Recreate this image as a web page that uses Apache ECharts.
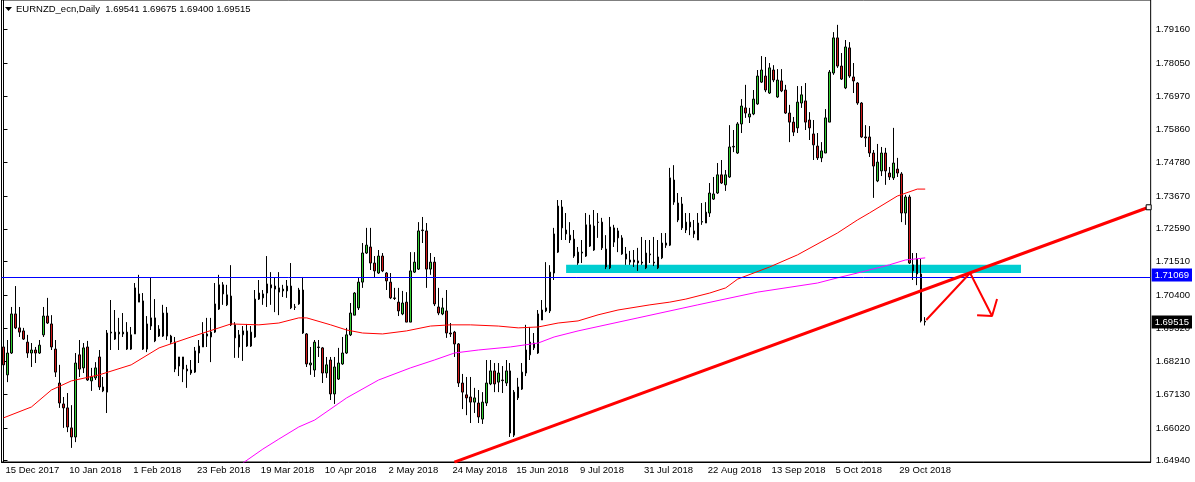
<!DOCTYPE html>
<html><head><meta charset="utf-8">
<script src="https://cdn.jsdelivr.net/npm/echarts@6/dist/echarts.min.js"></script>
<style>html,body{margin:0;padding:0;background:#fff}#c{width:1195px;height:482px}</style>
</head><body><div id="c"></div><script>
const symbolName = 'EURNZD_ecn,Daily';
const firstDay = [2017, 11, 15];
const holidays = ['2017-12-25', '2018-01-01'];
const totalSlots = 288;
const labelEvery = 16;

const opens = [1.6869,1.6777,1.6849,1.6978,1.6932,1.6922,1.6885,1.6849,1.6859,1.6849,1.6909,1.6971,1.6945,1.6862,1.6750,1.6681,1.6668,1.6602,1.6572,1.6843,
1.6800,1.6869,1.6757,1.6767,1.6836,1.6737,1.6720,1.6915,1.6918,1.6912,1.6912,1.6918,1.6862,1.6912,1.7044,1.7021,1.6862,1.6938,1.6965,1.6905,
1.6905,1.6981,1.6905,1.6885,1.6806,1.6836,1.6796,1.6783,1.6786,1.6849,1.6869,1.6912,1.6902,1.6918,1.6994,1.7074,1.7008,1.7037,1.6942,1.6869,
1.6909,1.6922,1.6872,1.6902,1.7027,1.7031,1.7047,1.7074,1.7070,1.7064,1.7054,1.7054,1.7070,1.7001,1.7011,1.7057,1.6912,1.6810,1.6793,1.6867,
1.6866,1.6783,1.6826,1.6714,1.6763,1.6813,1.6849,1.6909,1.6974,1.6998,1.7083,1.7179,1.7199,1.7146,1.7113,1.7169,1.7113,1.7083,1.7031,1.7017,
1.6978,1.7017,1.6951,1.7116,1.7126,1.7255,1.7252,1.7126,1.7149,1.7001,1.6978,1.6988,1.6915,1.6918,1.6879,1.6750,1.6711,1.6704,1.6687,1.6684,
1.6631,1.6684,1.6747,1.6790,1.6753,1.6760,1.6750,1.6790,1.6578,1.6701,1.6730,1.6783,1.6843,1.6882,1.6849,1.6958,1.6988,1.6988,1.7113,1.7182,
1.7331,1.7255,1.7238,1.7225,1.7146,1.7179,1.7169,1.7272,1.7189,1.7281,1.7281,1.7192,1.7130,1.7262,1.7252,1.7229,1.7176,1.7149,1.7156,1.7146,
1.7149,1.7130,1.7176,1.7149,1.7130,1.7163,1.7212,1.7205,1.7420,1.7344,1.7341,1.7255,1.7281,1.7252,1.7222,1.7281,1.7278,1.7311,1.7357,1.7377,
1.7437,1.7404,1.7430,1.7529,1.7509,1.7605,1.7658,1.7628,1.7638,1.7671,1.7743,1.7763,1.7707,1.7783,1.7694,1.7747,1.7717,1.7641,1.7611,1.7592,
1.7674,1.7681,1.7618,1.7572,1.7532,1.7493,1.7509,1.7611,1.7773,1.7889,1.7796,1.7724,1.7856,1.7760,1.7740,1.7674,1.7562,1.7562,1.7509,1.7417,
1.7450,1.7509,1.7443,1.7427,1.7456,1.7440,1.7311,1.7364,1.7140,1.7159,1.7110,1.69541];
const highs = [1.6885,1.6892,1.7001,1.7070,1.7001,1.6932,1.6909,1.6882,1.6869,1.6892,1.7001,1.7031,1.6974,1.6892,1.6810,1.6704,1.6717,1.6677,1.6849,1.6892,
1.6882,1.6889,1.6800,1.6819,1.6859,1.6770,1.6925,1.7024,1.6991,1.6965,1.6981,1.6951,1.6935,1.7080,1.7107,1.7047,1.6971,1.7097,1.7027,1.6941,
1.7008,1.7001,1.6909,1.6902,1.6836,1.6836,1.6810,1.6826,1.6869,1.6892,1.6951,1.6965,1.6965,1.7080,1.7107,1.7083,1.7074,1.7139,1.6951,1.6925,
1.6938,1.6945,1.6938,1.7057,1.7090,1.7057,1.7169,1.7116,1.7097,1.7116,1.7074,1.7090,1.7146,1.7011,1.7064,1.7100,1.6915,1.6869,1.6892,1.6892,
1.6869,1.6836,1.6836,1.6836,1.6866,1.6902,1.6932,1.7014,1.7050,1.7097,1.7212,1.7262,1.7262,1.7169,1.7189,1.7179,1.7116,1.7113,1.7064,1.7064,
1.7054,1.7050,1.7182,1.7182,1.7281,1.7298,1.7278,1.7179,1.7166,1.7064,1.7031,1.7057,1.6948,1.6922,1.6882,1.6780,1.6770,1.6770,1.6734,1.6727,
1.6720,1.6826,1.6826,1.6816,1.6816,1.6806,1.6826,1.6816,1.6727,1.6767,1.6816,1.6942,1.6935,1.6915,1.6991,1.7024,1.7149,1.7139,1.7262,1.7354,
1.7354,1.7311,1.7281,1.7255,1.7199,1.7222,1.7311,1.7305,1.7321,1.7311,1.7295,1.7238,1.7298,1.7272,1.7262,1.7238,1.7199,1.7186,1.7189,1.7196,
1.7232,1.7222,1.7222,1.7232,1.7222,1.7245,1.7245,1.7460,1.7469,1.7377,1.7364,1.7311,1.7311,1.7288,1.7311,1.7344,1.7347,1.7410,1.7430,1.7476,
1.7486,1.7453,1.7601,1.7585,1.7611,1.7687,1.7734,1.7658,1.7717,1.7783,1.7829,1.7826,1.7806,1.7799,1.7786,1.7786,1.7734,1.7668,1.7628,1.7730,
1.7730,1.7740,1.7644,1.7618,1.7575,1.7545,1.7654,1.7783,1.7908,1.7932,1.7839,1.7882,1.7875,1.7806,1.7743,1.7677,1.7601,1.7598,1.7519,1.7539,
1.7529,1.7526,1.7463,1.7592,1.7493,1.7446,1.7371,1.7371,1.7179,1.7179,1.7159,1.69675];
const lows = [1.6767,1.6753,1.6846,1.6928,1.6902,1.6892,1.6833,1.6803,1.6816,1.6846,1.6902,1.6945,1.6859,1.6770,1.6668,1.6602,1.6588,1.6536,1.6555,1.6770,
1.6783,1.6757,1.6724,1.6760,1.6727,1.6720,1.6651,1.6859,1.6892,1.6859,1.6902,1.6859,1.6859,1.6912,1.7017,1.6859,1.6852,1.6925,1.6885,1.6902,
1.6902,1.6892,1.6879,1.6786,1.6773,1.6753,1.6734,1.6777,1.6783,1.6816,1.6869,1.6869,1.6819,1.6915,1.6991,1.7008,1.7004,1.6938,1.6833,1.6833,
1.6823,1.6869,1.6869,1.6899,1.7024,1.7008,1.7001,1.7008,1.6984,1.6974,1.7034,1.7031,1.6994,1.6991,1.7008,1.6912,1.6803,1.6777,1.6770,1.6836,
1.6750,1.6767,1.6694,1.6681,1.6760,1.6810,1.6846,1.6905,1.6974,1.6991,1.7064,1.7176,1.7123,1.7097,1.7110,1.7116,1.7057,1.7027,1.7024,1.6971,
1.6974,1.6951,1.6951,1.7113,1.7123,1.7212,1.7064,1.7107,1.7004,1.6974,1.6974,1.6899,1.6902,1.6836,1.6737,1.6664,1.6644,1.6618,1.6651,1.6618,
1.6615,1.6674,1.6743,1.6720,1.6720,1.6717,1.6740,1.6572,1.6572,1.6694,1.6727,1.6773,1.6826,1.6859,1.6846,1.6958,1.6984,1.6981,1.7090,1.7179,
1.7222,1.7222,1.7212,1.7163,1.7140,1.7146,1.7166,1.7199,1.7186,1.7229,1.7189,1.7126,1.7126,1.7199,1.7182,1.7173,1.7140,1.7140,1.7133,1.7120,
1.7140,1.7126,1.7146,1.7136,1.7126,1.7159,1.7196,1.7202,1.7338,1.7281,1.7255,1.7245,1.7238,1.7229,1.7222,1.7272,1.7278,1.7298,1.7354,1.7374,
1.7407,1.7384,1.7427,1.7512,1.7506,1.7575,1.7625,1.7608,1.7634,1.7668,1.7740,1.7710,1.7704,1.7743,1.7691,1.7710,1.7638,1.7545,1.7565,1.7575,
1.7658,1.7585,1.7552,1.7486,1.7486,1.7479,1.7509,1.7611,1.7767,1.7790,1.7750,1.7720,1.7757,1.7707,1.7668,1.7559,1.7529,1.7496,1.7361,1.7413,
1.7433,1.7404,1.7420,1.7420,1.7430,1.7281,1.7272,1.7143,1.7090,1.7073,1.6950,1.69400];
const closes = [1.6810,1.6849,1.6978,1.6932,1.6918,1.6895,1.6849,1.6859,1.6849,1.6875,1.6971,1.6948,1.6869,1.6786,1.6684,1.6668,1.6605,1.6572,1.6816,1.6796,
1.6866,1.6760,1.6770,1.6800,1.6737,1.6724,1.6915,1.6918,1.6895,1.6918,1.6918,1.6862,1.6909,1.7064,1.7017,1.6862,1.6945,1.6965,1.6889,1.6928,
1.6981,1.6905,1.6885,1.6796,1.6836,1.6796,1.6790,1.6793,1.6856,1.6872,1.6912,1.6905,1.6918,1.7011,1.7074,1.7044,1.7041,1.6942,1.6899,1.6909,
1.6922,1.6872,1.6918,1.7027,1.7047,1.7044,1.7077,1.7064,1.7060,1.7050,1.7060,1.7070,1.6998,1.7000,1.7057,1.6915,1.6813,1.6816,1.6885,1.6869,
1.6783,1.6810,1.6714,1.6803,1.6816,1.6849,1.6909,1.6981,1.7047,1.7083,1.7179,1.7205,1.7146,1.7120,1.7169,1.7120,1.7087,1.7031,1.7029,1.6988,
1.7014,1.6951,1.7120,1.7149,1.7252,1.7253,1.7126,1.7149,1.7011,1.6981,1.6998,1.6915,1.6912,1.6879,1.6750,1.6720,1.6701,1.6687,1.6701,1.6638,
1.6687,1.6750,1.6790,1.6747,1.6783,1.6758,1.6790,1.6585,1.6720,1.6737,1.6786,1.6859,1.6885,1.6866,1.6978,1.6991,1.6998,1.7116,1.7242,1.7334,
1.7262,1.7242,1.7222,1.7169,1.7182,1.7182,1.7272,1.7202,1.7268,1.7280,1.7196,1.7133,1.7265,1.7215,1.7229,1.7176,1.7159,1.7156,1.7149,1.7153,
1.7146,1.7179,1.7173,1.7146,1.7166,1.7212,1.7205,1.7427,1.7347,1.7288,1.7262,1.7281,1.7265,1.7242,1.7278,1.7283,1.7314,1.7377,1.7374,1.7437,
1.7410,1.7437,1.7529,1.7531,1.7605,1.7664,1.7641,1.7638,1.7687,1.7763,1.7783,1.7717,1.7790,1.7750,1.7750,1.7714,1.7641,1.7611,1.7578,1.7677,
1.7701,1.7611,1.7592,1.7536,1.7493,1.7516,1.7625,1.7776,1.7889,1.7796,1.7753,1.7859,1.7763,1.7747,1.7674,1.7562,1.7559,1.7509,1.7466,1.7479,
1.7509,1.7450,1.7430,1.7476,1.7443,1.7311,1.7364,1.7146,1.7120,1.7110,1.6955,1.69515];

const priceTicks = [1.7916,1.7805,1.7697,1.7586,1.7478,1.7367,1.7259,1.7151,1.7040,1.6932,1.6821,1.6713,1.6602,1.6494];
const priceMin = 1.64894, priceMax = 1.8014;
const levelPrice = 1.71069;

const redMaBars = [0,7,12,17,24,32,39,47,54,57,64,69,74,76,82,86,90,95,101,107,112,117,124,129,134,139,144,149,154,162,167,171,177,181,184,192,199,209,214,217,224,229,231];
const redMaVals = [1.6635,1.6671,1.6727,1.6757,1.6777,1.6810,1.6866,1.6902,1.6932,1.6945,1.6942,1.6948,1.6965,1.6965,1.6942,1.6925,1.6915,1.6912,1.6922,1.6938,1.6942,1.6942,1.6938,1.6932,1.6935,1.6948,1.6955,1.6975,1.6991,1.7008,1.7017,1.7027,1.7047,1.7064,1.7093,1.7133,1.7173,1.7245,1.7288,1.7311,1.7367,1.7390,1.7390];
const magMaBars = [60,65,69,74,78,86,94,102,108,113,119,127,134,138,144,159,174,189,204,209,214,222,226,231];
const magMaVals = [1.6486,1.6532,1.6565,1.6605,1.6628,1.6701,1.6760,1.6800,1.6826,1.6849,1.6859,1.6869,1.6882,1.6902,1.6922,1.6965,1.7008,1.7050,1.7080,1.7097,1.7113,1.7140,1.7156,1.7163];

const trendBars = [113, 287];
const trendVals = [1.6489, 1.7330];
const zoneBars = [141, 255];
const zoneVals = [1.7113, 1.7140];
const arrowBars = [231.25, 242.25, 247.75];
const arrowVals = [1.6958, 1.7113, 1.6971];
const headBars = [244, 247.75, 249];
const headVals = [1.6974, 1.6971, 1.7027];

const months = ['Jan','Feb','Mar','Apr','May','Jun','Jul','Aug','Sep','Oct','Nov','Dec'];
const nBars = opens.length;
const cats = [];
const d = new Date(Date.UTC(firstDay[0], firstDay[1], firstDay[2]));
while (cats.length < nBars) {
  const wd = d.getUTCDay();
  const iso = d.toISOString().slice(0, 10);
  if (wd !== 0 && wd !== 6 && holidays.indexOf(iso) < 0) {
    cats.push(d.getUTCDate() + ' ' + months[d.getUTCMonth()] + ' ' + d.getUTCFullYear());
  }
  d.setUTCDate(d.getUTCDate() + 1);
}
while (cats.length < totalSlots) cats.push('');

const candles = opens.map((o, i) => [o, closes[i], lows[i], highs[i]]);
const pairs = (xs, ys) => xs.map((x, i) => [x, ys[i]]);
const last = nBars - 1;
const lastClose = closes[last];
const header = symbolName + '  ' + [opens[last], highs[last], lows[last], closes[last]].map(v => v.toFixed(5)).join(' ');
const showLab = (i) => i % labelEvery === 0 && i < nBars;
const FONT = 'Liberation Sans';
const FS = 9.5;
const boxStyle = (bg) => ({backgroundColor: bg, color: '#fff', padding: [2, 3, 1, 3], fontSize: FS, fontFamily: FONT});

const chart = echarts.init(document.getElementById('c'), null, {renderer: 'canvas'});
chart.setOption({
  animation: false,
  backgroundColor: '#fff',
  textStyle: {fontFamily: FONT},
  grid: {left: 1.5, right: 41.5, top: 0, bottom: 20, show: true, borderColor: '#000', borderWidth: 1, backgroundColor: '#fff'},
  graphic: [
    {type: 'polygon', shape: {points: [[5, 7], [12, 7], [8.5, 11]]}, style: {fill: '#000'}, z: 100},
    {type: 'text', left: 16, top: 4, style: {text: header, font: FS + 'px "' + FONT + '"', fill: '#000'}, z: 100}
  ],
  xAxis: [
    {type: 'category', data: cats, boundaryGap: true,
      axisLine: {lineStyle: {color: '#000', width: 1}},
      axisTick: {interval: showLab, alignWithLabel: true, length: 4, lineStyle: {color: '#000'}},
      axisLabel: {interval: showLab, align: 'left', margin: 3, color: '#000', fontSize: FS, fontFamily: FONT, padding: [0, 0, 0, 2]},
      splitLine: {show: false}},
    {type: 'value', min: -0.5, max: totalSlots - 0.5, show: false}
  ],
  yAxis: [
    {type: 'value', position: 'right', min: priceMin, max: priceMax, z: 1,
      axisLine: {show: true, lineStyle: {color: '#000'}},
      axisTick: {show: true, length: 4, customValues: priceTicks, lineStyle: {color: '#000'}},
      axisLabel: {customValues: priceTicks, formatter: v => v.toFixed(5), color: '#000', fontSize: FS, fontFamily: FONT, margin: 5},
      splitLine: {show: false}},
    {type: 'value', position: 'right', min: priceMin, max: priceMax, z: 6,
      axisLine: {show: false}, axisTick: {show: false}, splitLine: {show: false},
      axisLabel: {customValues: [levelPrice, lastClose], margin: 1,
        formatter: v => (Math.abs(v - levelPrice) < 1e-9 ? '{b|' : '{k|') + v.toFixed(5) + '}',
        rich: {b: boxStyle('#0000ff'), k: boxStyle('#000')}}}
  ],
  series: [
    {type: 'line', xAxisIndex: 1, data: [[zoneBars[0], zoneVals[0]]], symbol: 'none', lineStyle: {opacity: 0}, z: 1, silent: true,
      markArea: {silent: true, itemStyle: {color: '#00ced1'},
        data: [[{xAxis: zoneBars[0], yAxis: zoneVals[1]}, {xAxis: zoneBars[1], yAxis: zoneVals[0]}]]}},
    {type: 'candlestick', xAxisIndex: 0, data: candles, barWidth: 2, z: 3,
      itemStyle: {color: '#32cd32', color0: '#d01818', borderColor: '#000', borderColor0: '#000', borderColorDoji: '#000', borderWidth: 1},
      markLine: {silent: true, symbol: ['none', 'none'], animation: false, label: {show: false},
        data: [{yAxis: levelPrice, lineStyle: {color: '#0000ff', width: 1, type: 'solid'}}]}},
    {type: 'line', xAxisIndex: 1, data: pairs(redMaBars, redMaVals), symbol: 'none', lineStyle: {color: '#ff0000', width: 1}, z: 4, silent: true},
    {type: 'line', xAxisIndex: 1, data: pairs(magMaBars, magMaVals), symbol: 'none', lineStyle: {color: '#ff00ff', width: 1}, z: 4, silent: true},
    {type: 'line', xAxisIndex: 1, data: pairs(trendBars, trendVals), symbol: 'rect', symbolSize: 5, showSymbol: true,
      itemStyle: {color: '#fff', borderColor: '#000', borderWidth: 1}, lineStyle: {color: '#ff0000', width: 3}, z: 5, silent: true},
    {type: 'line', xAxisIndex: 1, data: pairs(arrowBars, arrowVals), symbol: 'none', lineStyle: {color: '#ff0000', width: 2}, z: 5, silent: true},
    {type: 'line', xAxisIndex: 1, data: pairs(headBars, headVals), symbol: 'none', lineStyle: {color: '#ff0000', width: 2}, z: 5, silent: true}
  ]
});
</script></body></html>
